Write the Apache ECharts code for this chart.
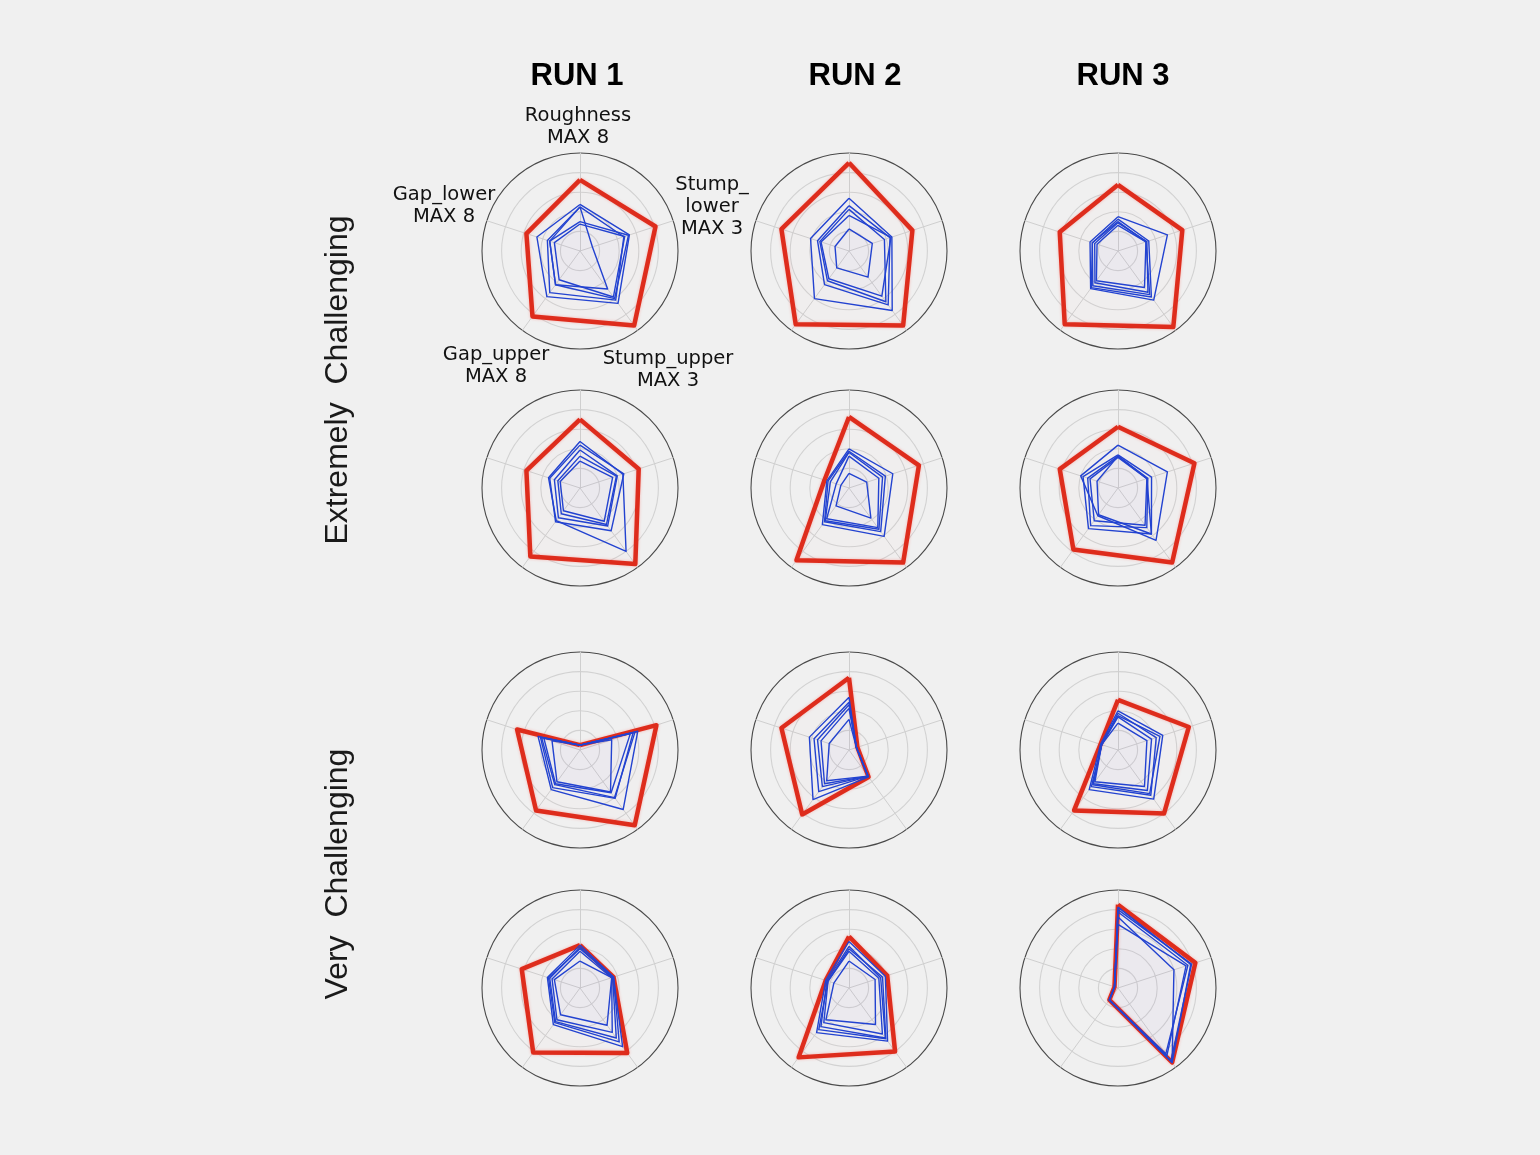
<!DOCTYPE html>
<html><head><meta charset="utf-8">
<script src="https://cdn.jsdelivr.net/npm/echarts@6/dist/echarts.min.js"></script>
<style>html,body{margin:0;padding:0;background:#f0f0f0}#c{width:1540px;height:1155px}</style>
</head><body><div id="c"></div><script>
// indicator definitions (clockwise from top, as in the picture)
const indicatorNames = ['Roughness', 'Stump_lower', 'Stump_upper', 'Gap_upper', 'Gap_lower'];
const indicatorMax = [8, 3, 3, 8, 8];
const indicatorLabels = ['Roughness\nMAX 8', 'Stump_\nlower\nMAX 3', 'Stump_upper\nMAX 3', 'Gap_upper\nMAX 8', 'Gap_lower\nMAX 8'];
const runTitles = ['RUN 1', 'RUN 2', 'RUN 3'];
const groupLabels = ['Extremely  Challenging', 'Very  Challenging'];

// values: [Roughness, Stump_lower, Stump_upper, Gap_upper, Gap_lower]
// Extremely Challenging, row 1
const ex1r1Max = [5.8, 2.43, 2.82, 6.6, 4.6];
const ex1r1Trials = [[3.8,1.59,1.98,4.6,3.7],[3.6,1.41,1.86,4.2,2.8],[3.6,0.4,1.44,3.4,2.6],[2.2,1.44,1.74,2.9,2.2],[2.4,1.56,1.8,3.4,2.6]];
const ex1r2Max = [7.2, 2.04, 2.82, 7.4, 5.8];
const ex1r2Trials = [[4.3,1.38,2.25,4.8,3.3],[3.7,1.32,2.04,3.4,2.7],[3.4,1.14,1.92,3.0,2.5],[2.9,1.35,1.71,2.8,2.4],[1.8,0.75,0.99,1.7,1.2]];
const ex1r3Max = [5.4, 2.07, 2.88, 7.4, 5.0];
const ex1r3Trials = [[2.8,1.59,1.86,3.8,2.4],[2.6,0.99,1.74,3.7,2.2],[2.3,0.93,1.56,3.2,2.0],[2.1,0.9,1.38,3.0,1.8],[2.4,0.9,1.65,3.5,2.2]];
// Extremely Challenging, row 2
const ex2r1Max = [5.6, 1.89, 2.88, 6.9, 4.6];
const ex2r1Trials = [[3.8,1.38,2.4,3.3,2.7],[3.5,1.41,1.62,3.4,2.6],[3.1,1.2,1.44,3.0,2.2],[2.6,1.17,1.38,2.6,1.9],[2.2,1.05,1.26,2.3,1.7]];
const ex2r2Max = [5.8, 2.25, 2.82, 7.3, 2.1];
const ex2r2Trials = [[3.2,1.41,1.83,3.7,1.9],[3.0,1.17,1.65,3.4,1.8],[2.9,1.08,1.56,3.3,1.6],[2.6,0.96,1.5,3.1,1.1],[1.2,0.57,1.14,1.8,0.7]];
const ex2r3Max = [5.0, 2.46, 2.82, 6.2, 5.0];
const ex2r3Trials = [[3.5,1.59,1.98,2.8,3.2],[2.7,1.08,1.74,4.1,3.0],[2.6,0.96,1.5,3.8,2.6],[2.5,0.93,1.41,3.3,2.4],[2.6,0.93,1.74,2.7,1.8]];
// Very Challenging, row 1
const vc1r1Max = [0.4, 2.46, 2.85, 6.1, 5.4];
const vc1r1Trials = [[0.4,1.86,2.25,4.0,3.6],[0.4,1.71,1.83,3.8,3.4],[0.4,1.62,1.62,3.4,3.1],[0.4,1.02,1.59,3.2,2.4],[0.4,1.77,1.8,3.5,3.3]];
const vc1r2Max = [5.9, 0.27, 1.02, 6.5, 5.8];
const vc1r2Trials = [[4.3,0.24,1.02,5.0,3.4],[3.9,0.24,0.99,4.2,3.0],[3.7,0.24,0.99,3.7,2.7],[3.4,0.24,0.99,3.4,2.4],[2.5,0.24,0.99,3.1,1.7]];
const vc1r3Max = [4.1, 2.28, 2.4, 6.1, 1.5];
const vc1r3Trials = [[3.2,1.44,1.86,4.0,1.5],[3.0,1.23,1.71,3.7,1.4],[2.7,1.08,1.53,3.4,1.4],[2.2,0.93,1.38,3.2,1.4],[2.8,1.35,1.65,3.5,1.4]];
// Very Challenging, row 2
const vc2r1Max = [3.5, 1.08, 2.46, 6.5, 5.0];
const vc2r1Trials = [[3.5,1.08,2.22,3.7,2.8],[3.3,1.05,1.89,3.4,2.6],[3.0,1.02,1.68,3.2,2.4],[2.2,1.02,1.41,2.7,2.2],[3.2,1.08,2.04,3.5,2.7]];
const vc2r2Max = [4.2, 1.23, 2.4, 7.0, 2.0];
const vc2r2Trials = [[3.8,1.17,2.01,4.5,2.0],[3.4,1.02,1.89,3.9,1.9],[3.0,0.96,1.74,3.5,1.8],[2.2,0.84,1.38,3.2,1.3],[3.2,1.08,1.92,4.2,1.8]];
const vc2r3Max = [6.8, 2.49, 2.82, 1.2, 0.3];
const vc2r3Trials = [[6.6,2.34,2.82,1.2,0.3],[6.2,2.25,2.49,1.2,0.3],[5.8,1.8,2.82,1.2,0.3],[5.2,2.19,2.55,1.2,0.3],[6.4,2.37,2.76,1.2,0.3]];

const panels = [
  [ex1r1Max, ex1r1Trials], [ex1r2Max, ex1r2Trials], [ex1r3Max, ex1r3Trials],
  [ex2r1Max, ex2r1Trials], [ex2r2Max, ex2r2Trials], [ex2r3Max, ex2r3Trials],
  [vc1r1Max, vc1r1Trials], [vc1r2Max, vc1r2Trials], [vc1r3Max, vc1r3Trials],
  [vc2r1Max, vc2r1Trials], [vc2r2Max, vc2r2Trials], [vc2r3Max, vc2r3Trials]
];

// ECharts lays indicators counter-clockwise; reorder so the picture reads clockwise
const order = [0, 4, 3, 2, 1];
const reorder = v => order.map(i => v[i]);

const colX = [580, 849, 1118];
const rowY = [251, 488, 750, 988];
const R = 98;

const radars = [];
const series = [];
panels.forEach((p, k) => {
  const row = Math.floor(k / 3), col = k % 3;
  radars.push({
    center: [colX[col], rowY[row]],
    radius: R,
    shape: 'circle',
    startAngle: 90,
    splitNumber: 5,
    indicator: order.map(i => ({ name: indicatorNames[i], min: 0, max: indicatorMax[i] })),
    axisName: { show: false },
    axisLine: { lineStyle: { color: '#cfcfcf', width: 1 } },
    splitLine: { lineStyle: { color: ['#d2d2d2', '#d2d2d2', '#d2d2d2', '#d2d2d2', '#d2d2d2', '#4a4a4a'], width: 1.1 } },
    splitArea: { show: false },
    axisTick: { show: false },
    axisLabel: { show: false }
  });
  series.push({
    type: 'radar', radarIndex: k, symbol: 'none', silent: true,
    lineStyle: { color: '#de2c1c', width: 4.5, shadowBlur: 3, shadowColor: 'rgba(255,90,80,0.4)' },
    areaStyle: { color: 'rgba(255,120,110,0.02)' },
    data: [{ value: reorder(p[0]) }]
  });
  series.push({
    type: 'radar', radarIndex: k, symbol: 'none', silent: true,
    lineStyle: { color: '#2343d0', width: 1.4 },
    areaStyle: { color: 'rgba(90,120,240,0.012)' },
    data: p[1].map(v => ({ value: reorder(v) }))
  });
});

const labelPos = [[578, 127], [712, 207], [668, 370], [496, 366], [444, 206]];
const graphics = [];
runTitles.forEach((t, i) => {
  graphics.push({ type: 'text', x: [577, 855, 1123][i], y: 76,
    style: { text: t, fontFamily: 'Liberation Sans, Arial, sans-serif', fontWeight: 'bold', fontSize: 31, fill: '#000', textAlign: 'center', textVerticalAlign: 'middle' } });
});
groupLabels.forEach((t, i) => {
  graphics.push({ type: 'text', x: 338, y: [380, 874][i], rotation: Math.PI / 2,
    style: { text: t, fontFamily: 'Liberation Sans, Arial, sans-serif', fontSize: 32, fill: '#1a1a1a', textAlign: 'center', textVerticalAlign: 'middle' } });
});
indicatorLabels.forEach((t, i) => {
  graphics.push({ type: 'text', x: labelPos[i][0], y: labelPos[i][1],
    style: { text: t, fontFamily: 'DejaVu Sans, sans-serif', fontSize: 19.5, lineHeight: 22, fill: '#111', textAlign: 'center', textVerticalAlign: 'middle', align: 'center' } });
});

const chart = echarts.init(document.getElementById('c'), null, { renderer: 'canvas' });
chart.setOption({
  backgroundColor: '#f0f0f0',
  animation: false,
  radar: radars,
  series: series,
  graphic: graphics
});
</script></body></html>
